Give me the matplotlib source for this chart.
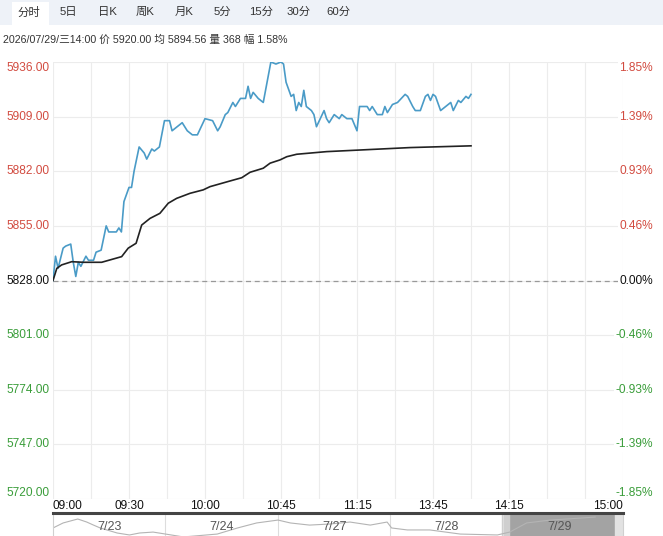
import matplotlib
matplotlib.use("Agg")
import matplotlib.pyplot as plt
from matplotlib.patches import Rectangle
from matplotlib.transforms import blended_transform_factory

plt.rcParams['font.family'] = ['Liberation Sans', 'Noto Sans CJK SC', 'DejaVu Sans']

# ------------------------------------------------------------------
# data
# ------------------------------------------------------------------
tabs = ["分时", "5日", "日K", "周K", "月K", "5分", "15分", "30分", "60分"]
info = "2026/07/29/三14:00 价 5920.00 均 5894.56 量 368 幅 1.58%"

base_price = 5828.0
y_ticks = [5720, 5747, 5774, 5801, 5828, 5855, 5882, 5909, 5936]

# trading minutes since 09:00 (breaks removed)
x_tick_min = [0, 30, 60, 90, 120, 150, 180, 225]
x_tick_lab = ["09:00", "09:30", "10:00", "10:45", "11:15", "13:45", "14:15", "15:00"]

price_t = [0, 1, 2, 4, 5, 7, 8, 9, 10, 11, 13, 14, 16, 17, 19, 21, 22, 25, 26, 27,
           28, 30, 31, 32, 34, 36, 37, 39, 40, 42, 44, 46, 47, 49, 51, 53, 55, 57, 60, 63,
           65, 66, 68, 69, 71, 72, 74, 76, 77, 78, 79, 81, 83, 86, 88, 90, 91, 92, 94, 95,
           96, 97, 98, 99, 100, 102, 103, 104, 107, 108, 109, 111, 113, 114, 116, 118, 120, 121, 124, 125,
           126, 128, 130, 131, 132, 134, 136, 139, 140, 142, 143, 145, 147, 148, 149, 150, 151, 153, 155, 157,
           158, 160, 161, 163, 164, 165]
price_v = [5828, 5840, 5834, 5844, 5845, 5846, 5837, 5830, 5837, 5835, 5840, 5838, 5838, 5842, 5843, 5855, 5852, 5852, 5854, 5852,
           5867, 5874, 5874, 5882, 5894, 5891, 5888, 5893, 5892, 5894, 5907, 5907, 5902, 5904, 5906, 5902, 5900, 5900, 5908, 5907,
           5902, 5904, 5910, 5911, 5916, 5914, 5918, 5918, 5924, 5918, 5921, 5918, 5916, 5936, 5935, 5936, 5935, 5926, 5919, 5920,
           5912, 5916, 5914, 5922, 5914, 5912, 5910, 5904, 5912, 5908, 5906, 5910, 5908, 5910, 5908, 5908, 5902, 5914, 5914, 5912,
           5914, 5910, 5910, 5914, 5911, 5915, 5916, 5920, 5919, 5914, 5912, 5912, 5919, 5920, 5917, 5920, 5919, 5912, 5914, 5916,
           5912, 5917, 5916, 5919, 5918, 5920]

avg_t = [0, 1.5, 3.4, 7.4, 12, 19.2, 27.1, 29.7, 32.8, 35, 38.3, 42.2, 45.5, 48.8, 54.1, 59.3,
         62, 69.9, 74.5, 77.8, 83, 85.7, 89.6, 92.3, 96.2, 108, 121.2, 140.9, 165]
avg_v = [5828, 5834, 5835.7, 5837.3, 5837, 5837, 5839.8, 5844, 5846.4, 5855.4, 5858.7, 5861.2, 5866.2, 5868.6, 5871.1, 5872.8,
         5874.4, 5877.2, 5878.8, 5881.5, 5883.5, 5886, 5887.6, 5889.2, 5890.4, 5891.7, 5892.5, 5893.7, 5894.56]

# navigator (5 days)
nav_days = ["7/23", "7/24", "7/27", "7/28", "7/29"]
nav_x = [0, 0.09, 0.22, 0.30, 0.36, 0.42, 0.57, 0.68, 0.77, 0.89, 1.0,
         1.16, 1.46, 1.64, 1.81, 2.0,
         2.11, 2.28, 2.46, 2.64, 2.82, 2.97,
         3.01, 3.15, 3.35, 3.62, 3.95,
         4.06, 4.21, 4.42, 4.71, 4.82]
nav_v = [5861, 5894, 5920, 5900, 5880, 5861, 5828, 5815, 5828, 5834, 5821,
         5802, 5821, 5861, 5894, 5913,
         5894, 5880, 5887, 5900, 5880, 5900,
         5861, 5848, 5848, 5821, 5815,
         5834, 5894, 5913, 5927, 5933]

# ------------------------------------------------------------------
W, H = 663, 536
fig = plt.figure(figsize=(W / 100, H / 100), dpi=100)


def box(x0, y0, x1, y1):
    # pixel box (top-left origin) -> figure fraction rect
    return [x0 / W, 1 - y1 / H, (x1 - x0) / W, (y1 - y0) / H]


# tab bar
fig.patches.append(Rectangle((0, 1 - 25 / H), 1, 25 / H, transform=fig.transFigure,
                             facecolor="#eef2f8", edgecolor="none", zorder=0))
fig.patches.append(Rectangle((12 / W, 1 - 25 / H), 37 / W, 23 / H, transform=fig.transFigure,
                             facecolor="white", edgecolor="none", zorder=0))
tab_x = [29, 68, 107, 145, 184, 222, 261, 299, 338]
for tx, lab in zip(tab_x, tabs):
    fig.text(tx / W, 1 - 12 / H, lab, ha="center", va="center", fontsize=8.2, color="#333333")

fig.text(3 / W, 1 - 40 / H, info, ha="left", va="center", fontsize=7.7, color="#333333")

# main chart
ax = fig.add_axes(box(53, 62, 623, 499))
ax.set_xlim(0, 225)
ax.set_ylim(y_ticks[0], y_ticks[-1])
for s in ax.spines.values():
    s.set_visible(False)
ax.set_xticks(range(0, 226, 15))
ax.set_yticks(y_ticks)
ax.tick_params(length=0, labelbottom=False, labelleft=False)
ax.grid(True, color="#ececec", lw=0.8)
ax.set_axisbelow(True)

ax.axhline(base_price, color="#999999", lw=0.9, ls=(0, (4, 3)))
ax.plot(price_t, price_v, color="#4a9bc7", lw=1.2, zorder=3)
ax.plot(avg_t, avg_v, color="#222222", lw=1.2, zorder=3)

tr = blended_transform_factory(fig.transFigure, ax.transData)
for i, v in enumerate(y_ticks):
    pct = (v - base_price) / base_price * 100
    if v > base_price:
        col = "#d24b40"
    elif v < base_price:
        col = "#3a9d3a"
    else:
        col = "#111111"
    if i == len(y_ticks) - 1:
        va = "top"
    elif i == 0:
        va = "bottom"
    else:
        va = "center"
    ax.text(6 / W, v, "%.2f" % v, transform=tr, ha="left", va=va, fontsize=8.6, color=col)
    ax.text(653 / W, v, "%.2f%%" % pct, transform=tr, ha="right", va=va, fontsize=8.6, color=col,
            bbox=dict(facecolor="white", edgecolor="none", pad=1))

trx = blended_transform_factory(ax.transData, fig.transFigure)
for i, (m, lab) in enumerate(zip(x_tick_min, x_tick_lab)):
    ha = "left" if i == 0 else ("right" if i == len(x_tick_min) - 1 else "center")
    ax.text(m, 1 - 506 / H, lab, transform=trx, ha=ha, va="center", fontsize=8.6, color="#111111")

# navigator
nav = fig.add_axes(box(53, 513, 623, 545))
nav.set_xlim(0, 5.067)
nav.set_ylim(5749, 5959.5)
nav.set_xticks([])
nav.set_yticks([])
for k in ["left", "right", "bottom"]:
    nav.spines[k].set_color("#d0d0d0")
    nav.spines[k].set_linewidth(0.8)
nav.spines["top"].set_color("#444444")
nav.spines["top"].set_linewidth(2.2)
for d in range(1, 5):
    nav.axvline(d, color="#dddddd", lw=0.8)
nav.axvspan(4, 5.0, color="#a3a3a3", zorder=1)
nav.axvspan(3.99, 4.05, color="#cfcfcf", zorder=1)
nav.axvspan(5.0, 5.067, color="#e2e2e2", zorder=1)
nav.plot(nav_x, nav_v, color="#b4b4b4", lw=0.8, zorder=2)
trn = blended_transform_factory(nav.transData, fig.transFigure)
for d, lab in enumerate(nav_days):
    nav.text(d + 0.5, 1 - 527 / H, lab, transform=trn, ha="center", va="center",
             fontsize=9, color="#555555", zorder=3)

fig.savefig("out.png", dpi=100)
